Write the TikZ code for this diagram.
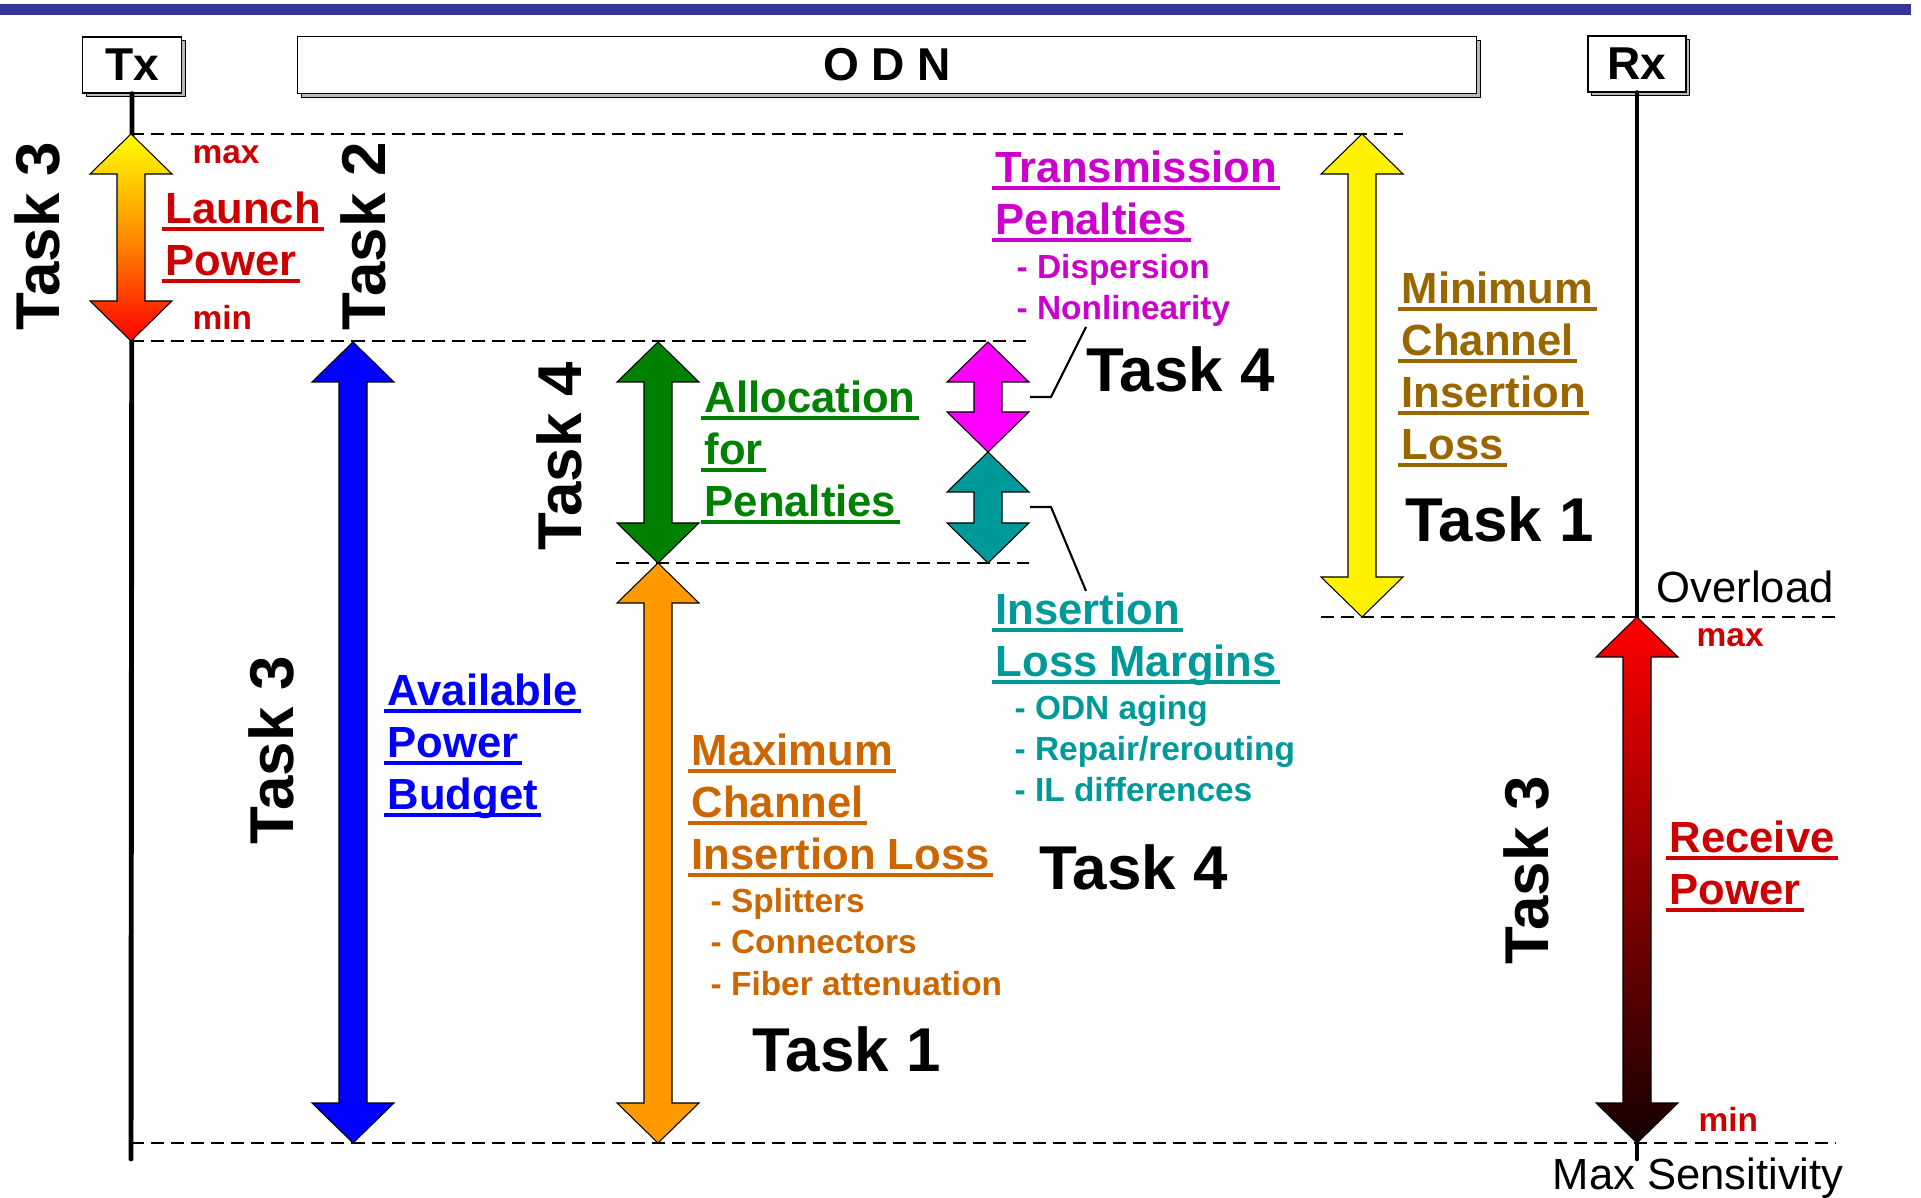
\documentclass[tikz,border=0pt]{standalone}
\usepackage{fontspec}
\setmainfont{Liberation Sans}
\usetikzlibrary{calc,shadows}

\definecolor{barblue}{RGB}{54,54,153}
\definecolor{lpred}{RGB}{204,0,0}
\definecolor{tpmag}{RGB}{204,0,204}
\definecolor{tpfill}{RGB}{255,0,255}
\definecolor{apgreen}{RGB}{0,128,0}
\definecolor{ilteal}{RGB}{0,153,153}
\definecolor{mxorange}{RGB}{204,102,0}
\definecolor{mnbrown}{RGB}{153,102,0}
\definecolor{arrorange}{RGB}{255,153,0}
\definecolor{lpmid}{RGB}{255,140,0}
\definecolor{rpdark}{RGB}{20,0,0}

% underlined label text
\newsavebox\ulinebox
\newcommand{\ulin}[1]{\sbox\ulinebox{#1}\rlap{\kern-0.08em\rule[-0.16em]{\dimexpr\wd\ulinebox+0.16em\relax}{0.09em}}\usebox\ulinebox}

% fat double arrow between two tip coordinates
\newcommand{\fatarrow}[3][]{%
  \path[fatarr,#1] (#2) -- ++(41,40) -- ++(-27,0) -- ($(#3)+(14,-40)$) -- ++(27,0) -- (#3)
    -- ++(-41,-40) -- ++(27,0) -- ($(#2)+(-14,40)$) -- ++(-27,0) -- cycle;}

\begin{document}
\begin{tikzpicture}[
    x=0.01cm, y=-0.01cm,
    boxlbl/.style={draw, fill=white, line width=0.4pt, inner sep=0,
      font=\fontsize{13.1}{15}\selectfont\bfseries,
      drop shadow={shadow xshift=1.1pt, shadow yshift=-1.1pt, fill=gray!55, draw=black, line width=0.3pt, opacity=1}},
    tasklbl/.style={font=\fontsize{17.6}{20}\selectfont\bfseries, inner sep=0},
    lbl/.style={font=\fontsize{12.4}{14.8}\selectfont\bfseries, align=left, inner sep=0, anchor=base west},
    sublbl/.style={font=\fontsize{9.5}{11.7}\selectfont\bfseries, align=left, inner sep=0, anchor=base west},
    plainlbl/.style={font=\fontsize{12.4}{14.8}\selectfont, inner sep=0, anchor=base west},
    guide/.style={dash pattern=on 3.7pt off 2pt, line width=0.45pt},
    rail/.style={line width=1.4pt, line cap=round},
    fatarr/.style={draw=black, line width=0.3pt},
    leader/.style={line width=0.6pt}
]
\useasboundingbox (0,0) rectangle (1921,1198);

% Title bar
\fill[barblue] (0,4) rectangle (1911,15);

% Tx, ODN, Rx
\node[boxlbl, minimum width=0.99cm, minimum height=0.56cm] (tx) at (132,65) {Tx};
\node[boxlbl, minimum width=11.78cm, minimum height=0.57cm] (odn) at (887,65) {O D N};
\node[boxlbl, minimum width=0.98cm, minimum height=0.56cm] (rx) at (1637,64) {Rx};

% Arrow tips
\coordinate (lp top) at (131,134);  \coordinate (lp bot) at (131,341);
\coordinate (ap top) at (353,342);  \coordinate (ap bot) at (353,1143);
\coordinate (al top) at (658,342);  \coordinate (al bot) at (658,563);
\coordinate (mx top) at (658,563);  \coordinate (mx bot) at (658,1143);
\coordinate (tp top) at (988,342);  \coordinate (tp bot) at (988,452);
\coordinate (im top) at (988,452);  \coordinate (im bot) at (988,563);
\coordinate (mn top) at (1362,134); \coordinate (mn bot) at (1362,617);
\coordinate (rp top) at (1637,617); \coordinate (rp bot) at (1637,1143);

% Guide lines
\draw[guide] (lp top) -- (1403,134);
\draw[guide] (lp bot) -- (1029,341);
\draw[guide] (616,563) -- (1029,563);
\draw[guide] (1321,617) -- (1840,617);
\draw[guide] (131,1143) -- (1836,1143);

% Tx and Rx rails
\draw[rail] (tx.south) -- (131,1159);
\draw[rail] (rx.south) -- (1637,1159);

% Arrows
\fatarrow[top color=yellow, bottom color=red, middle color=lpmid]{lp top}{lp bot}
\fatarrow[fill=blue]{ap top}{ap bot}
\fatarrow[fill=apgreen]{al top}{al bot}
\fatarrow[fill=arrorange]{mx top}{mx bot}
\fatarrow[fill=tpfill]{tp top}{tp bot}
\fatarrow[fill=ilteal]{im top}{im bot}
\fatarrow[fill=yellow]{mn top}{mn bot}
\fatarrow[top color=red, bottom color=rpdark]{rp top}{rp bot}

% Leaders
\coordinate (tp end) at (1086,327);
\coordinate (im end) at (1086,591);
\draw[leader] (1030,397) -- (1051,397) -- (tp end);
\draw[leader] (1030,507) -- (1051,507) -- (im end);

% Task labels
\node[tasklbl, rotate=90, anchor=base] (t3a) at (60,236) {Task 3};
\node[tasklbl, rotate=90, anchor=base] (t2) at (385,236) {Task 2};
\node[tasklbl, rotate=90, anchor=base] (t4a) at (581,456) {Task 4};
\node[tasklbl, rotate=90, anchor=base] (t3b) at (293,750) {Task 3};
\node[tasklbl, rotate=90, anchor=base] (t3c) at (1548,870) {Task 3};
\node[tasklbl, anchor=base west] (t4b) at (1086,392) {Task 4};
\node[tasklbl, anchor=base west] (t1a) at (1405,542) {Task 1};
\node[tasklbl, anchor=base west] (t4c) at (1039,890) {Task 4};
\node[tasklbl, anchor=base west] (t1b) at (752,1071) {Task 1};

% Launch power (multi-line labels sit on their last baseline)
\node[lbl, text=lpred] (lp) at (165,276) {\ulin{Launch}\\\ulin{Power}};
\node[sublbl, text=lpred] (lpmax) at (192,164) {max};
\node[sublbl, text=lpred] (lpmin) at (192,330) {min};

% Budget and allocations
\node[lbl, text=blue] (ap) at (387,810) {\ulin{Available}\\\ulin{Power}\\\ulin{Budget}};
\node[lbl, text=apgreen] (al) at (704,517) {\ulin{Allocation}\\\ulin{for}\\\ulin{Penalties}};
\node[lbl, text=tpmag] (tp) at (995,235) {\ulin{Transmission}\\\ulin{Penalties}};
\node[sublbl, text=tpmag] (tpitems) at (1016,320) {- Dispersion\\- Nonlinearity};
\node[lbl, text=mnbrown] (mn) at (1401,460) {\ulin{Minimum}\\\ulin{Channel}\\\ulin{Insertion}\\\ulin{Loss}};
\node[lbl, text=ilteal] (im) at (995,677) {\ulin{Insertion}\\\ulin{Loss Margins}};
\node[sublbl, text=ilteal] (imitems) at (1014,802) {- ODN aging\\- Repair/rerouting\\- IL differences};
\node[lbl, text=mxorange] (mx) at (691,870) {\ulin{Maximum}\\\ulin{Channel}\\\ulin{Insertion Loss}};
\node[sublbl, text=mxorange] (mxitems) at (710,995) {- Splitters\\- Connectors\\- Fiber attenuation};

% Receive power
\node[lbl, text=lpred] (rp) at (1669,905) {\ulin{Receive}\\\ulin{Power}};
\node[sublbl, text=lpred] (rpmax) at (1696,647) {max};
\node[sublbl, text=lpred] (rpmin) at (1698,1131) {min};
\node[plainlbl] (ovl) at (1656,603) {Overload};
\node[plainlbl] (sens) at (1552,1189) {Max Sensitivity};

\end{tikzpicture}
\end{document}
